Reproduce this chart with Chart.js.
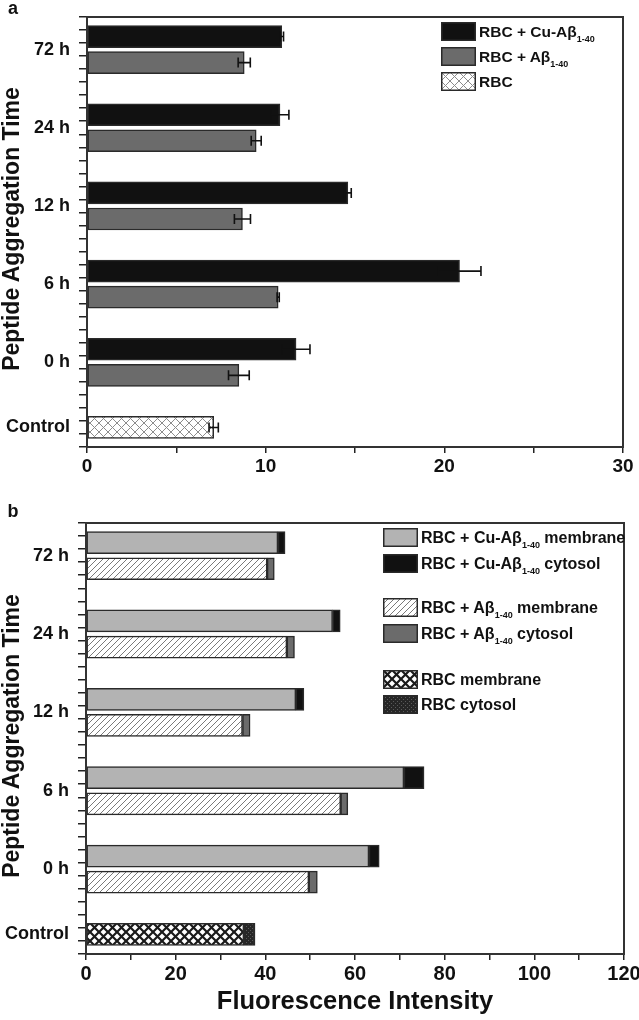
<!DOCTYPE html>
<html>
<head>
<meta charset="utf-8">
<script src="https://cdn.jsdelivr.net/npm/chart.js@4.4.1/dist/chart.umd.min.js"></script>
<style>
body{margin:0;background:#fff;}
#wrap{position:relative;width:639px;height:1020px;font-family:'Liberation Sans',Arial,sans-serif;color:#111;font-weight:bold;overflow:hidden;}
#wrap canvas.chart{position:absolute;left:0;}
.lbl{position:absolute;white-space:nowrap;transform:translate(-50%,-50%);}
.ytitle{position:absolute;font-size:23px;white-space:nowrap;transform:translate(-50%,-50%) rotate(-90deg);}
.leg{position:absolute;height:19px;line-height:19px;white-space:nowrap;}
.leg canvas{position:absolute;left:0;top:0;}
.leg span{position:absolute;top:0;}
sub{font-size:9px;vertical-align:-5px;line-height:0;}
</style>
</head>
<body>
<div id="wrap">
  <canvas id="chartA" class="chart" width="639" height="500" style="top:0"></canvas>
  <canvas id="chartB" class="chart" width="639" height="520" style="top:500px"></canvas>
  <div class="lbl" style="left:13px;top:8px;font-size:18px">a</div>
  <div class="lbl" style="left:13px;top:511px;font-size:18px">b</div>
  <div class="ytitle" style="left:11px;top:229px">Peptide Aggregation Time</div>
  <div class="ytitle" style="left:11px;top:736px">Peptide Aggregation Time</div>
  <div class="lbl" style="left:355px;top:1000px;font-size:25.5px">Fluorescence Intensity</div>
  <div id="legA"></div>
  <div id="legB"></div>
</div>
<script>
// categories bottom to top
var categories = ['Control', '0 h', '6 h', '12 h', '24 h', '72 h'];

// panel a, order 0 h, 6 h, 12 h, 24 h, 72 h
var cuAbeta = [11.7, 20.85, 14.6, 10.8, 10.9];
var cuAbetaErr = [0.78, 1.2, 0.19, 0.5, 0.1];
var abeta = [8.5, 10.7, 8.7, 9.47, 8.8];
var abetaErr = [0.58, 0.06, 0.45, 0.28, 0.34];
var rbc = [7.09];
var rbcErr = [0.26];

// panel b, same order
var cuMembrane = [63.1, 70.9, 46.8, 55.0, 42.8];
var cuCytosol = [2.3, 4.5, 1.8, 1.7, 1.6];
var abMembrane = [49.7, 56.8, 34.9, 44.8, 40.4];
var abCytosol = [1.9, 1.6, 1.7, 1.7, 1.6];
var rbcMembrane = [35.2];
var rbcCytosol = [2.5];

// y position of a category (Control sits lower, the rest every 6 units)
function catPos(i){ return i === 0 ? 1 : 6 * i; }
var labelAt = {};
categories.forEach(function(c, i){ labelAt[catPos(i)] = c; });

function points(values, offset){
  return values.map(function(v, i){ return {x: v, y: catPos(i + 1) + offset}; });
}

// fill patterns
function makePattern(w, h, draw){
  var c = document.createElement('canvas');
  c.width = w; c.height = h;
  draw(c.getContext('2d'), w, h);
  return document.createElement('canvas').getContext('2d').createPattern(c, 'repeat');
}
function crossDraw(color, bg, lw){
  return function(g, w, h){
    g.fillStyle = bg; g.fillRect(0, 0, w, h);
    g.strokeStyle = color; g.lineWidth = lw;
    g.beginPath();
    g.moveTo(0, 0); g.lineTo(w, h);
    g.moveTo(w, 0); g.lineTo(0, h);
    g.stroke();
  };
}
var crossLight = makePattern(9, 9, crossDraw('#8c8c8c', '#fff', 1));
var crossDark = makePattern(9, 9, crossDraw('#1a1a1a', '#fff', 2.2));
var hatchLight = makePattern(6, 6, function(g, w, h){
  g.fillStyle = '#fff'; g.fillRect(0, 0, w, h);
  g.strokeStyle = '#7a7a7a'; g.lineWidth = 1;
  g.beginPath();
  g.moveTo(0, h); g.lineTo(w, 0);
  g.moveTo(-1, 1); g.lineTo(1, -1);
  g.moveTo(w - 1, h + 1); g.lineTo(w + 1, h - 1);
  g.stroke();
});
var dots = makePattern(4, 4, function(g, w, h){
  g.fillStyle = '#262626'; g.fillRect(0, 0, w, h);
  g.fillStyle = '#5a5a5a';
  g.fillRect(0, 0, 1, 1); g.fillRect(2, 2, 1, 1);
});

var edge = '#2a2a2a';
function bar(label, data, fill, extra){
  var d = {
    label: label, data: data, backgroundColor: fill,
    borderColor: edge, borderWidth: 1.5, borderSkipped: false,
    barThickness: 22, grouped: false
  };
  for (var k in extra) d[k] = extra[k];
  return d;
}

var framePlugin = {
  id: 'frame',
  afterDatasetsDraw: function(chart){
    var a = chart.chartArea, g = chart.ctx;
    g.save();
    // error bars
    chart.data.datasets.forEach(function(ds, di){
      if (!ds.errorBars) return;
      var meta = chart.getDatasetMeta(di);
      g.strokeStyle = '#111'; g.lineWidth = 1.6;
      meta.data.forEach(function(el, i){
        var v = ds.data[i].x, e = ds.errorBars[i];
        var x1 = chart.scales.x.getPixelForValue(v - e);
        var x2 = chart.scales.x.getPixelForValue(v + e);
        g.beginPath();
        g.moveTo(x1, el.y); g.lineTo(x2, el.y);
        g.moveTo(x1, el.y - 5); g.lineTo(x1, el.y + 5);
        g.moveTo(x2, el.y - 5); g.lineTo(x2, el.y + 5);
        g.stroke();
      });
    });
    g.strokeStyle = '#333'; g.lineWidth = 2;
    g.strokeRect(a.left, a.top, a.right - a.left, a.bottom - a.top);
    g.restore();
  }
};

function baseOptions(xMax, xStep, labelEvery, xFont, yWidth, xHeight, pad){
  return {
    indexAxis: 'y',
    responsive: false,
    animation: false,
    devicePixelRatio: 1,
    layout: {padding: pad},
    plugins: {legend: {display: false}, tooltip: {enabled: false}},
    scales: {
      x: {
        type: 'linear', min: 0, max: xMax, stacked: true,
        border: {display: false},
        grid: {drawOnChartArea: false, color: '#222', lineWidth: 1.5, tickLength: 6},
        ticks: {
          stepSize: xStep, autoSkip: false, maxRotation: 0, padding: 2,
          color: '#111', font: {size: xFont, weight: 'bold'},
          callback: function(v){ return v % labelEvery === 0 ? String(v) : ''; }
        },
        afterFit: function(s){ s.height = xHeight; s.paddingLeft = 0; s.paddingRight = 0; }
      },
      y: {
        type: 'linear', min: 0, max: 32,
        border: {display: false},
        grid: {drawOnChartArea: false, color: '#222', lineWidth: 1.5, tickLength: 8},
        ticks: {
          stepSize: 1, autoSkip: false, padding: 9,
          color: '#111', font: {size: 18, weight: 'bold'},
          callback: function(v){ return labelAt[v] || ''; }
        },
        afterFit: function(s){ s.width = yWidth; s.paddingTop = 0; s.paddingBottom = 0; }
      }
    }
  };
}

Chart.defaults.font.family = "'Liberation Sans', Arial, sans-serif";

new Chart(document.getElementById('chartA'), {
  type: 'bar',
  data: {
    datasets: [
      bar('RBC + Cu-Aβ1-40', points(cuAbeta, 1), '#111', {errorBars: cuAbetaErr}),
      bar('RBC + Aβ1-40', points(abeta, -1), '#6b6b6b', {errorBars: abetaErr}),
      bar('RBC', [{x: rbc[0], y: catPos(0)}], crossLight, {errorBars: rbcErr})
    ]
  },
  options: baseOptions(30, 5, 10, 19, 87, 53, {left: 0, top: 17, right: 16, bottom: 0}),
  plugins: [framePlugin]
});

new Chart(document.getElementById('chartB'), {
  type: 'bar',
  data: {
    datasets: [
      bar('RBC + Cu-Aβ1-40 membrane', points(cuMembrane, 1), '#b3b3b3', {stack: 'cu'}),
      bar('RBC + Cu-Aβ1-40 cytosol', points(cuCytosol, 1), '#111', {stack: 'cu'}),
      bar('RBC + Aβ1-40 membrane', points(abMembrane, -1), hatchLight, {stack: 'ab'}),
      bar('RBC + Aβ1-40 cytosol', points(abCytosol, -1), '#6b6b6b', {stack: 'ab'}),
      bar('RBC membrane', [{x: rbcMembrane[0], y: catPos(0)}], crossDark, {stack: 'rbc'}),
      bar('RBC cytosol', [{x: rbcCytosol[0], y: catPos(0)}], dots, {stack: 'rbc'})
    ]
  },
  options: baseOptions(120, 10, 20, 20, 86, 66, {left: 0, top: 23, right: 15, bottom: 0}),
  plugins: [framePlugin]
});

// legends with subscripts
function legend(holder, left, fontSize, rows){
  var el = document.getElementById(holder);
  rows.forEach(function(r){
    var row = document.createElement('div');
    row.className = 'leg';
    row.style.left = left + 'px';
    row.style.top = (r.cy - 9.5) + 'px';
    row.style.fontSize = fontSize + 'px';
    var sw = document.createElement('canvas');
    sw.width = 35; sw.height = 19;
    var g = sw.getContext('2d');
    g.fillStyle = r.fill; g.fillRect(0, 0, 35, 19);
    g.strokeStyle = edge; g.lineWidth = 1.5; g.strokeRect(0.75, 0.75, 33.5, 17.5);
    row.appendChild(sw);
    var t = document.createElement('span');
    t.style.left = '38px';
    t.innerHTML = r.html;
    row.appendChild(t);
    el.appendChild(row);
  });
}
legend('legA', 441, 15.5, [
  {cy: 31, fill: '#111', html: 'RBC + Cu-Aβ<sub>1-40</sub>'},
  {cy: 56, fill: '#6b6b6b', html: 'RBC + Aβ<sub>1-40</sub>'},
  {cy: 81.5, fill: crossLight, html: 'RBC'}
]);
legend('legB', 383, 16, [
  {cy: 537.5, fill: '#b3b3b3', html: 'RBC + Cu-Aβ<sub>1-40</sub> membrane'},
  {cy: 563, fill: '#111', html: 'RBC + Cu-Aβ<sub>1-40</sub> cytosol'},
  {cy: 607.5, fill: hatchLight, html: 'RBC + Aβ<sub>1-40</sub> membrane'},
  {cy: 633, fill: '#6b6b6b', html: 'RBC + Aβ<sub>1-40</sub> cytosol'},
  {cy: 679, fill: crossDark, html: 'RBC membrane'},
  {cy: 704.5, fill: dots, html: 'RBC cytosol'}
]);
</script>
</body>
</html>
